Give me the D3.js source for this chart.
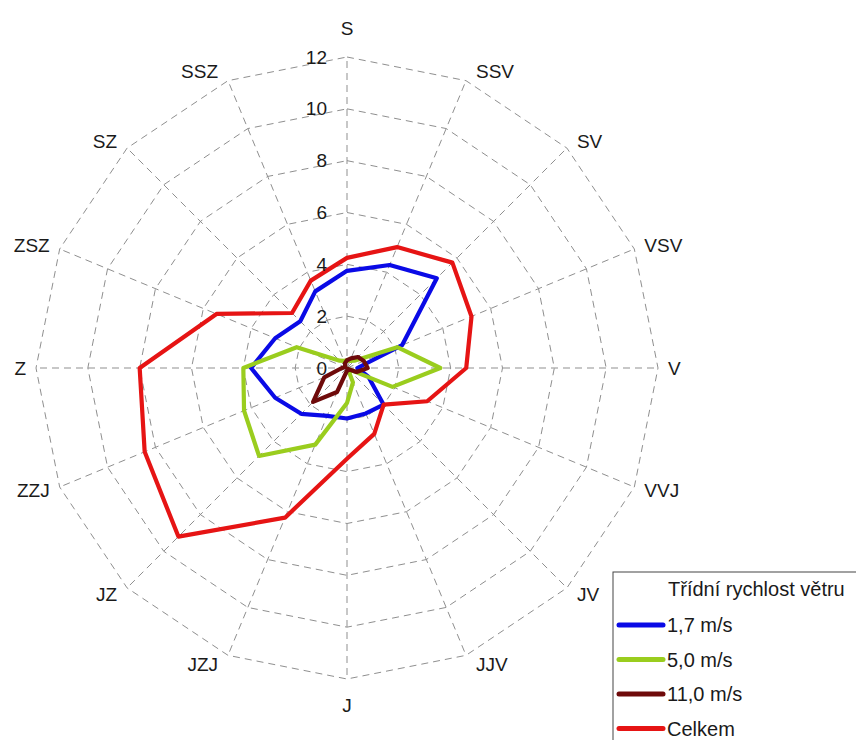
<!DOCTYPE html>
<html><head><meta charset="utf-8">
<script src="https://cdn.jsdelivr.net/npm/d3@7"></script>
<style>
html,body{margin:0;padding:0;background:#fff;}
svg{display:block;font-family:"Liberation Sans",Arial,sans-serif;}
</style></head>
<body>
<svg id="chart" width="856" height="740"></svg>
<script>
const directions = ["S","SSV","SV","VSV","V","VVJ","JV","JJV","J","JZJ","JZ","ZZJ","Z","ZSZ","SZ","SSZ"];
const tickValues = [0,2,4,6,8,10,12];
const seriesNames = ["1,7 m/s","5,0 m/s","11,0 m/s","Celkem"];
const seriesColors = ["#0a0ae6","#9acd1e","#6e0a0a","#e61414"];
const s17   = [3.75,4.3,4.9,2.3,0.4,0.9,2.0,1.9,1.95,2.0,2.5,3.0,3.7,3.0,2.55,3.2];
const s50   = [0.3,0.3,0.4,2.1,3.6,1.9,0.05,0.6,1.35,3.2,4.8,4.3,4.0,2.1,0.4,0.3];
const s110  = [0.3,0.4,0.6,0.7,0.8,0.4,0.05,0.1,0.1,1.0,1.85,0.95,0.2,0.1,0.1,0.2];
const total = [4.25,5.05,5.75,5.2,4.6,3.35,2.0,2.75,3.5,6.25,9.2,8.45,8.0,5.45,3.0,3.65];
const seriesData = [s17, s50, s110, total];

const svg = d3.select("#chart");
const cx = 347, cy = 368, R = 311;
const r = d3.scaleLinear().domain([0,12]).range([0,R]);
const ang = d3.scalePoint().domain(directions.concat(["_end"])).range([0, 2*Math.PI]);
const g = svg.append("g").attr("transform",`translate(${cx},${cy})`);

const pt = (d, v) => { const a = ang(d); return [r(v)*Math.sin(a), -r(v)*Math.cos(a)]; };

// rings
tickValues.filter(t=>t>0).forEach(t=>{
  g.append("path")
    .attr("d", d3.line()(directions.map(d=>pt(d,t))) + "Z")
    .attr("fill","none").attr("stroke","#8f8f8f").attr("stroke-width",1)
    .attr("stroke-dasharray","7,5");
});
// spokes
directions.forEach(d=>{
  const p = pt(d,12);
  g.append("line").attr("x1",0).attr("y1",0).attr("x2",p[0]).attr("y2",p[1])
    .attr("stroke","#8f8f8f").attr("stroke-width",1).attr("stroke-dasharray","7,5");
});
// direction labels
directions.forEach(d=>{
  const a = ang(d), sx = Math.sin(a), sy = Math.cos(a);
  const p = pt(d,12);
  let x = p[0], y = p[1], anchor = "middle";
  if (Math.abs(sx) < 0.1) { y += sy > 0 ? -29 : 26; }
  else { x += sx > 0 ? 10 : -10; anchor = sx > 0 ? "start" : "end"; y -= sy*10; }
  g.append("text").attr("x", x).attr("y", y)
    .attr("text-anchor",anchor).attr("dominant-baseline","central")
    .attr("font-size",19).attr("fill","#1a1a1a").text(d);
});

// series
const line = d3.lineRadial().angle((v,i)=>ang(directions[i])).radius(v=>r(v)).curve(d3.curveLinearClosed);
seriesData.forEach((s,k)=>{
  g.append("path").attr("d", line(s)).attr("fill","none")
    .attr("stroke", seriesColors[k]).attr("stroke-width",4.2).attr("stroke-linejoin","round");
});

// tick labels
tickValues.forEach(t=>{
  g.append("text").attr("x",-20).attr("y",-r(t))
    .attr("text-anchor","end").attr("dominant-baseline","central")
    .attr("font-size",19).attr("fill","#1a1a1a").text(t);
});

// legend
const lg = svg.append("g").attr("transform","translate(613,572)");
lg.append("rect").attr("x",0).attr("y",0).attr("width",260).attr("height",190)
  .attr("fill","#fff").attr("stroke","#444").attr("stroke-width",1);
lg.append("text").attr("x",55).attr("y",17).attr("font-size",20).attr("fill","#1a1a1a")
  .attr("dominant-baseline","central").text("Třídní rychlost větru");
seriesNames.forEach((n,k)=>{
  const y = 53 + k*34.5;
  lg.append("line").attr("x1",6).attr("x2",50).attr("y1",y).attr("y2",y)
    .attr("stroke",seriesColors[k]).attr("stroke-width",5).attr("stroke-linecap","round");
  lg.append("text").attr("x",54).attr("y",y).attr("font-size",20).attr("fill","#1a1a1a")
    .attr("dominant-baseline","central").text(n);
});
</script>
</body></html>
